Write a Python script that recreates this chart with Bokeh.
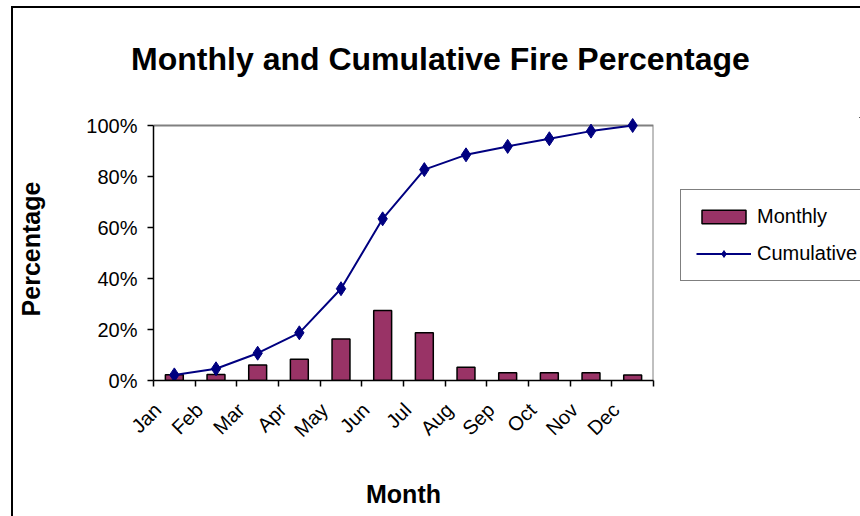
import math
from bokeh.plotting import figure
from bokeh.models import Range1d, FixedTicker, Legend, LegendItem, Label, Column, Row
from bokeh.embed import file_html
from bokeh.resources import INLINE

months = ["Jan", "Feb", "Mar", "Apr", "May", "Jun", "Jul", "Aug", "Sep", "Oct", "Nov", "Dec"]
monthly = [2.3, 2.4, 6.1, 8.3, 16.3, 27.5, 18.7, 5.2, 3.0, 3.0, 3.0, 2.2]
cumulative = [2.2, 4.6, 10.7, 18.7, 36.0, 63.4, 82.7, 88.5, 91.8, 94.8, 97.8, 100.0]
y_ticks = [0, 20, 40, 60, 80, 100]
title_text = "Monthly and Cumulative Fire Percentage"

FONT = "Liberation Sans"
BAR_FILL = "#993366"
LINE_COL = "#000080"
n = len(months)
xs = [i + 0.5 for i in range(n)]
LABEL_SHIFT = 0.4  # rotated month labels sit left of the category centre

# layout (pixels)
W, H = 847, 508
TITLE_H = 100
MAIN_W = 667
MAIN_H = H - TITLE_H
LEG_W = W - MAIN_W
PLOT_L, PLOT_W, PLOT_H = 140, 500, 255
TOP_PAD, BOTTOM = 9, 136
frame_h = MAIN_H - TOP_PAD - BOTTOM
y_top = y_ticks[-1]
y_end = y_top * frame_h / PLOT_H


def bare(fig):
    fig.title = None
    fig.outline_line_color = None
    fig.background_fill_color = "white"
    fig.border_fill_color = "white"
    fig.grid.visible = False
    return fig


# ---- title strip ----
tf = bare(figure(width=W, height=TITLE_H, x_range=Range1d(0, W), y_range=Range1d(0, TITLE_H),
                 x_axis_location=None, y_axis_location=None, toolbar_location=None,
                 output_backend="svg", min_border_left=0, min_border_right=0,
                 min_border_top=0, min_border_bottom=0))
tf.add_layout(Label(x=427, y=TITLE_H - 50, text=title_text, text_align="center",
                    text_baseline="alphabetic", text_font=FONT, text_font_size="32px",
                    text_font_style="bold", text_color="black"))

# ---- main chart ----
p = bare(figure(width=MAIN_W, height=MAIN_H, x_range=Range1d(0, n), y_range=Range1d(0, y_end),
                output_backend="svg", toolbar_location=None,
                min_border_left=PLOT_L, min_border_right=MAIN_W - PLOT_L - PLOT_W,
                min_border_top=TOP_PAD, min_border_bottom=BOTTOM))

p.line(x=[0, n, n], y=[y_top, y_top, 0], line_color="#808080", line_width=2)
p.vbar(x=xs, top=monthly, width=0.43, fill_color=BAR_FILL, line_color="black", line_width=1.5)
p.line(xs, cumulative, line_color=LINE_COL, line_width=2)
p.scatter(xs, cumulative, marker="diamond", size=14, fill_color=LINE_COL, line_color=LINE_COL)

ya = p.yaxis[0]
ya.ticker = FixedTicker(ticks=y_ticks, minor_ticks=[])
ya.major_label_overrides = {t: f"{t}%" for t in y_ticks}
ya.bounds = (0, y_top)
ya.axis_label = "Percentage"
ya.major_tick_out = 6
ya.major_tick_in = 0
ya.major_label_standoff = 10
ya.axis_label_standoff = 38

label_pos = [x - LABEL_SHIFT for x in xs]
xa = p.xaxis[0]
xa.ticker = FixedTicker(ticks=label_pos, minor_ticks=list(range(n + 1)))
xa.major_label_overrides = {x: m for x, m in zip(label_pos, months)}
xa.major_label_orientation = math.pi / 4
xa.bounds = (0, n)
xa.major_tick_out = 0
xa.major_tick_in = 0
xa.minor_tick_out = 6
xa.minor_tick_in = 0
xa.major_label_standoff = 20
xa.axis_label_standoff = 28
xa.axis_label = "Month"

for ax in (xa, ya):
    ax.axis_line_color = "black"
    ax.axis_line_width = 1.5
    ax.major_tick_line_color = "black"
    ax.minor_tick_line_color = "black"
    ax.major_tick_line_width = 1.5
    ax.minor_tick_line_width = 1.5
    ax.major_label_text_font = FONT
    ax.major_label_text_font_size = "20px"
    ax.major_label_text_color = "black"
    ax.axis_label_text_font = FONT
    ax.axis_label_text_font_size = "25px"
    ax.axis_label_text_font_style = "bold"
    ax.axis_label_text_color = "black"

# ---- legend strip (series drawn out of view, used only for legend glyphs) ----
# its frame is aligned with the main chart's frame by the row layout
lf = bare(figure(width=LEG_W, height=MAIN_H, x_range=Range1d(-2, -1), y_range=Range1d(-2, -1),
                 x_axis_location=None, y_axis_location=None, toolbar_location=None,
                 output_backend="svg", min_border_left=0, min_border_right=0,
                 min_border_top=TOP_PAD, min_border_bottom=BOTTOM))
lb = lf.vbar(x=xs, top=monthly, width=0.43, fill_color=BAR_FILL, line_color="black",
             line_width=1.5)
ll = lf.line(xs, cumulative, line_color=LINE_COL, line_width=2)
lp = lf.scatter(xs, cumulative, marker="diamond", size=10, fill_color=LINE_COL,
                line_color=LINE_COL)
legend = Legend(items=[LegendItem(label="Monthly", renderers=[lb]),
                       LegendItem(label="Cumulative", renderers=[ll, lp])],
                location=(0, 99), border_line_color="black", border_line_width=1,
                background_fill_color="white", background_fill_alpha=1,
                label_text_font=FONT, label_text_font_size="20px", label_text_color="black",
                glyph_width=55, glyph_height=17, label_standoff=6,
                spacing=14, padding=15, margin=0)
lf.add_layout(legend)

layout = Column(children=[tf, Row(children=[p, lf], spacing=0)], spacing=0)
layout.styles = {"border-left": "2px solid black", "border-top": "2px solid black",
                 "margin-left": "11px", "margin-top": "6px"}

open("out.html", "w").write(file_html(layout, INLINE))
